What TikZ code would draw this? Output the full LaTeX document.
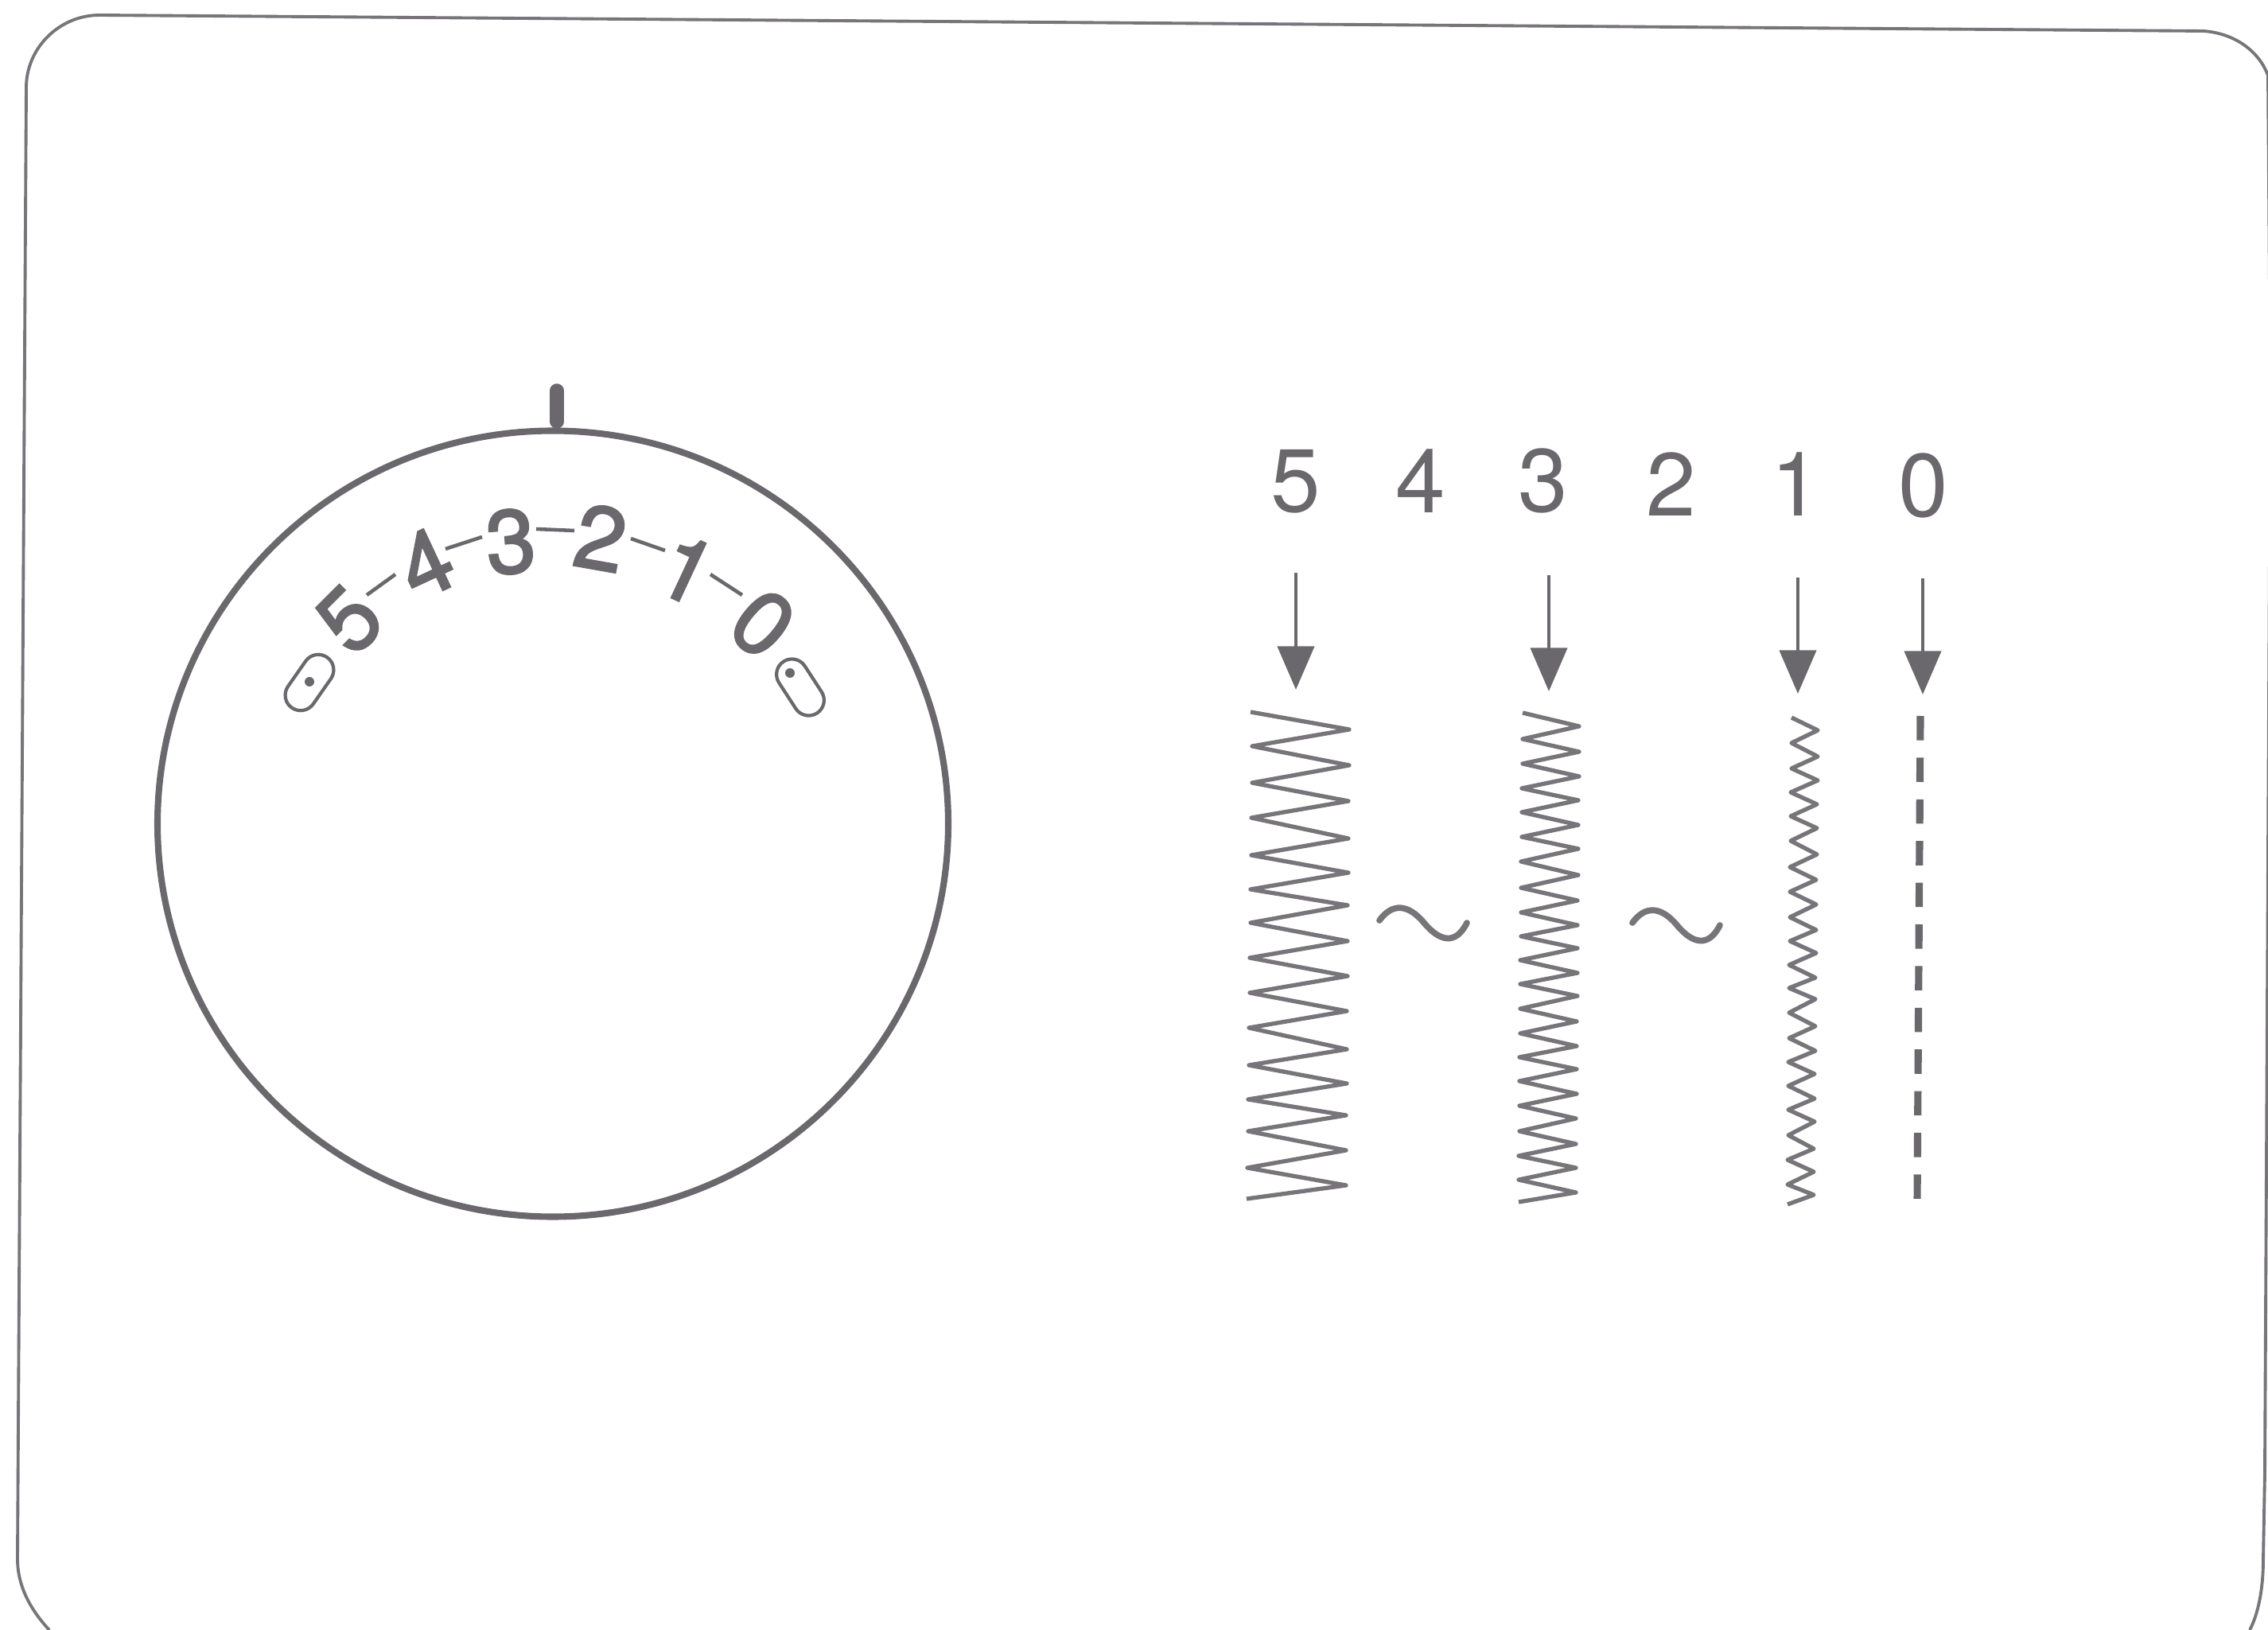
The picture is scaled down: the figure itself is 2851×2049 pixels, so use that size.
\documentclass[tikz,border=0pt]{standalone}
\usepackage{fontspec}
\newfontfamily\numfont{TeX Gyre Heros}
\newfontfamily\dialfont[FakeBold=2.2]{TeX Gyre Heros}
\usetikzlibrary{arrows.meta,shapes.misc}
\definecolor{inkgray}{HTML}{6A686C}
\definecolor{thingray}{HTML}{77757A}
\begin{document}
\begin{tikzpicture}[x=0.01cm, y=-0.01cm,
  dialnum/.style={inner sep=0pt, text=inkgray, font=\dialfont\fontsize{32}{32}\selectfont},
  topnum/.style={inner sep=0pt, text=inkgray, font=\numfont\fontsize{32}{32}\selectfont},
  dialdash/.style={inkgray, line width=1.3pt},
  zigzag/.style={thingray, line width=1.5pt, line join=round},
  tilde/.style={thingray, line width=2.2pt, line cap=round},
  stitcharrow/.style={inkgray, line width=1.4pt, -{Triangle[length=15.5pt, width=13pt]}},
  slot/.style={draw=inkgray, line width=1.2pt, rounded rectangle, minimum width=22pt, minimum height=11pt, inner sep=0pt}]
\useasboundingbox (0,0) rectangle (2851,2049);
% Cadre
\draw[thingray, line width=1.1pt] (62,2049) .. controls (35,2020) and (22,1990) .. (22,1960)
  -- (33,110) .. controls (33,60) and (75,19) .. (125,19)
  -- (2770,39) .. controls (2810,42) and (2840,65) .. (2851,95)
  -- (2854,500) -- (2847,1850) -- (2845,1960) .. controls (2845,2000) and (2838,2030) .. (2828,2049);
% Cadran
\draw[inkgray, line width=2.3pt] (695,1035.5) ellipse (497 and 494);
\draw[inkgray, line width=5pt, line cap=round] (700,491) -- (700,530);
% Chiffres du cadran
\node[dialnum, rotate=45] (dial5) at (439,779) {5};
\node[dialnum, rotate=25] (dial4) at (535,708) {4};
\node[dialnum, rotate=4] (dial3) at (642,681) {3};
\node[dialnum, rotate=-10] (dial2) at (755,676) {2};
\node[dialnum, rotate=-25] (dial1) at (863,716) {1};
\node[dialnum, rotate=-40] (dial0) at (959,784) {0};
% Tirets du cadran
\draw[dialdash] (461,748) -- (497,722);
\draw[dialdash] (560,690) -- (606,675);
\draw[dialdash] (674,665) -- (722,667);
\draw[dialdash] (793,677) -- (836,692);
\draw[dialdash] (893,722) -- (933,748);
% Butees
\node[slot, rotate=55] (slotleft) at (389,858) {};
\fill[inkgray] (389,857) circle (6);
\node[slot, rotate=-57] (slotright) at (1006,864) {};
\fill[inkgray] (993,846) circle (6);
% Chiffres du haut
\node[topnum] (top5) at (1629,605) {5};
\node[topnum] (top4) at (1786,605) {4};
\node[topnum] (top3) at (1940,604) {3};
\node[topnum] (top2) at (2101,609) {2};
\node[topnum] (top1) at (2258,609) {1};
\node[topnum] (top0) at (2418,610) {0};
% Fleches
\draw[stitcharrow] (1629,720) -- (1629,867);
\draw[stitcharrow] (1947,723) -- (1947,869);
\draw[stitcharrow] (2260,726) -- (2260,872);
\draw[stitcharrow] (2417,727) -- (2417,873);
% Zigzag large
\draw[zigzag] (1572,895) -- (1696,917) -- (1574,938) -- (1696,962) -- (1574,984) -- (1695,1007)
  -- (1573,1028) -- (1695,1054) -- (1573,1075) -- (1695,1097) -- (1572,1118) -- (1694,1138)
  -- (1572,1160) -- (1694,1183) -- (1571,1204) -- (1694,1227) -- (1571,1248) -- (1693,1271)
  -- (1570,1292) -- (1693,1319) -- (1570,1339) -- (1693,1362) -- (1569,1382) -- (1692,1402)
  -- (1569,1422) -- (1692,1446) -- (1568,1468) -- (1692,1490) -- (1567,1507);
% Zigzag moyen
\draw[zigzag] (1914,896) -- (1985,913) -- (1914,929) -- (1985,945) -- (1914,960) -- (1985,976)
  -- (1913,991) -- (1984,1006) -- (1913,1021) -- (1984,1037) -- (1913,1052) -- (1984,1067)
  -- (1912,1083) -- (1984,1100) -- (1912,1116) -- (1983,1132) -- (1912,1147) -- (1983,1163)
  -- (1912,1177) -- (1983,1192) -- (1911,1207) -- (1983,1223) -- (1911,1237) -- (1983,1252)
  -- (1911,1268) -- (1982,1284) -- (1911,1299) -- (1982,1315) -- (1910,1329) -- (1982,1344)
  -- (1910,1359) -- (1982,1375) -- (1910,1390) -- (1981,1406) -- (1910,1422) -- (1981,1438)
  -- (1909,1453) -- (1981,1468) -- (1909,1483) -- (1981,1499) -- (1909,1511);
% Zigzag fin
\draw[zigzag] (2252,902) -- (2285,918) -- (2252,934) -- (2285,951) -- (2252,966) -- (2285,981)
  -- (2251,996) -- (2284,1011) -- (2251,1026) -- (2284,1041) -- (2251,1057) -- (2284,1074)
  -- (2250,1090) -- (2283,1106) -- (2250,1121) -- (2283,1137) -- (2250,1153) -- (2283,1169)
  -- (2250,1183) -- (2283,1198) -- (2249,1213) -- (2282,1229) -- (2249,1242) -- (2282,1256)
  -- (2249,1273) -- (2282,1290) -- (2249,1305) -- (2282,1321) -- (2248,1335) -- (2281,1350)
  -- (2248,1365) -- (2281,1381) -- (2248,1395) -- (2281,1410) -- (2248,1427) -- (2280,1444)
  -- (2247,1458) -- (2280,1473) -- (2247,1489) -- (2280,1502) -- (2247,1514);
% Ligne droite
\draw[inkgray, line width=2.6pt, dash pattern=on 8.7pt off 6.2pt] (2414,900) -- (2410,1511);
% Entre deux reglages
\draw[tilde] (1734,1157) .. controls (1750,1135) and (1770,1136) .. (1790,1160)
  .. controls (1810,1184) and (1830,1188) .. (1844,1160);
\draw[tilde] (2052,1160) .. controls (2068,1138) and (2088,1139) .. (2108,1163)
  .. controls (2128,1187) and (2148,1191) .. (2162,1163);
\end{tikzpicture}
\end{document}
